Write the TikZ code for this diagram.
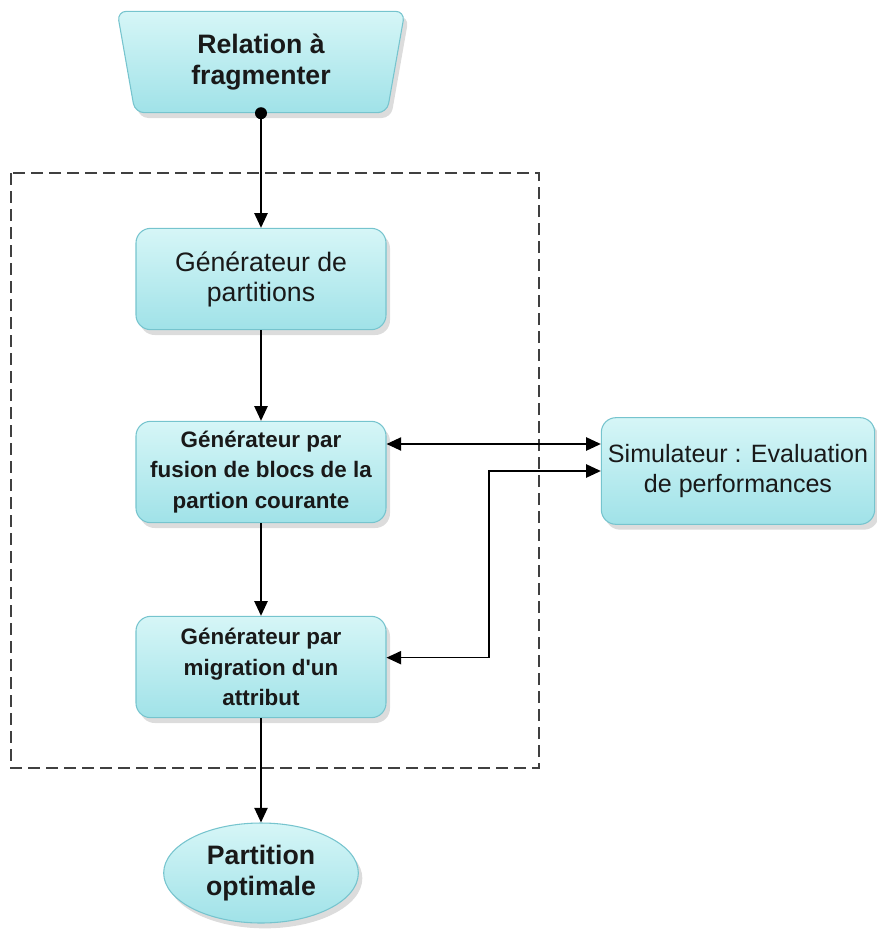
\documentclass[tikz,border=0pt]{standalone}
\usepackage{fontspec}
\setmainfont{Liberation Sans}
\usetikzlibrary{shapes.geometric,shadows,arrows.meta}

\definecolor{boxtop}{RGB}{214,246,247}
\definecolor{boxbottom}{RGB}{160,226,232}
\definecolor{boxline}{RGB}{118,196,206}

\newcommand{\bigbold}{\fontsize{20}{23}\selectfont\bfseries}
\newcommand{\bigplain}{\fontsize{20}{22.5}\selectfont}
\newcommand{\midbold}{\fontsize{16.8}{23}\selectfont\bfseries}
\newcommand{\simplain}{\fontsize{18.8}{22}\selectfont}

\tikzset{
  flow box/.style={draw=boxline, line width=0.8pt, top color=boxtop, bottom color=boxbottom,
    drop shadow={opacity=0.28, shadow xshift=3pt, shadow yshift=-4pt},
    align=center, text=black!90, inner sep=0pt},
  gen box/.style={flow box, rectangle, rounded corners=11pt, minimum width=187.5pt, minimum height=76pt},
  sim box/.style={flow box, rectangle, rounded corners=11pt, minimum width=205pt, minimum height=80pt},
  flow line/.style={->, line width=1pt},
  frame line/.style={draw=black!75, line width=0.9pt, dash pattern=on 9pt off 4.5pt}
}

\begin{document}
\begin{tikzpicture}[x=0.75pt,y=-0.75pt,>={Triangle[length=11pt,width=10pt]}]
\useasboundingbox (0,0) rectangle (877,931);

% frame round the generators
\draw[frame line] (11,173) rectangle (539,768);

\node[flow box, trapezium, trapezium angle=80, shape border rotate=180, trapezium stretches=true,
  minimum width=216pt, minimum height=76pt, rounded corners=7pt, font=\bigbold] (rel) at (261,62) {Relation à\\fragmenter};
\node[gen box, font=\bigplain] (gen) at (261,279) {Générateur de\\partitions};
\node[gen box, font=\midbold] (fus) at (261,472) {Générateur par\\fusion de blocs de la\\partion courante};
\node[gen box, font=\midbold] (mig) at (261,667) {Générateur par\\migration d\textquotesingle un\\attribut};
\node[sim box, font=\simplain] (sim) at (738,471) {Simulateur : Evaluation\\de performances};
\node[flow box, ellipse, minimum width=146pt, minimum height=75pt, font=\bigbold] (opt) at (261,873) {Partition\\optimale};

\node[circle, fill, inner sep=0pt, minimum size=9pt] (dot) at (rel.south -| gen.north) {};
\coordinate (link) at (489,471);

\draw[flow line] (dot) -- (gen);
\draw[flow line] (gen) -- (fus);
\draw[flow line] (fus) -- (mig);
\draw[flow line] (mig) -- (opt);
\draw[flow line, <->] ([yshift=21pt]fus.east) -- ([yshift=21pt]fus.east -| sim.west);
\draw[flow line, <->] ([yshift=7pt]mig.east) -| (link) -- (sim.west);

\end{tikzpicture}
\end{document}
